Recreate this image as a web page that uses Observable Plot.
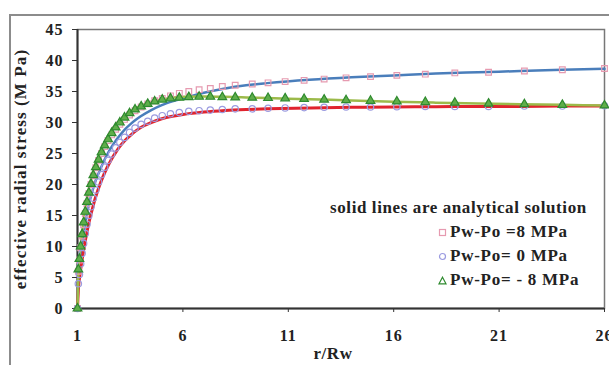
<!DOCTYPE html>
<html><head><meta charset="utf-8">
<script src="https://cdn.jsdelivr.net/npm/d3@7"></script>
<script src="https://cdn.jsdelivr.net/npm/@observablehq/plot@0.6"></script>
<style>
body{margin:0;background:#fff;}
#wrap{position:relative;width:609px;height:365px;overflow:hidden;font-family:"Liberation Serif","Times New Roman",serif;font-weight:bold;color:#222;}
#border{position:absolute;left:9px;top:14px;width:700px;height:400px;border-top:2px solid #8c8c8c;border-left:2px solid #8c8c8c;}
#chart{position:absolute;left:0;top:0;}
#legend{position:absolute;left:330px;top:196px;font-size:17px;line-height:24px;letter-spacing:0.6px;}
#legend .row{padding-left:108px;white-space:nowrap;letter-spacing:0.75px;}
#legend svg{vertical-align:middle;margin-right:3px;position:relative;top:-1px;}
#chart g[aria-label="y-axis tick label"] text, #chart g[aria-label="x-axis tick label"] text{letter-spacing:1px;}
#chart g[aria-description="ylab"] text{letter-spacing:1.1px;}
#chart g[aria-description="xlab"] text{letter-spacing:0.6px;}
</style>
</head><body>
<div id="wrap"><div id="border"></div><div id="chart"></div><div id="legend"></div></div>
<script>
// ---- data ----
const seriesNames = ["Pw-Po =8 MPa", "Pw-Po= 0 MPa", "Pw-Po= - 8 MPa"];
const xTicks = [1, 6, 11, 16, 21, 26];
const yTicks = [0, 5, 10, 15, 20, 25, 30, 35, 40, 45];
const xLabel = "r/Rw";
const yLabel = "effective radial stress (M Pa)";
const legendTitle = "solid lines are analytical solution";

// analytical solution (solid lines)
const lineX = [1, 1.05, 1.1, 1.2, 1.3, 1.4, 1.5, 1.6, 1.7, 1.8, 1.9, 2, 2.2, 2.4, 2.6, 2.8, 3, 3.25, 3.5, 3.75, 4, 4.5, 5, 5.5, 6, 7, 8, 9, 10, 12, 14, 16, 18, 20, 22, 24, 26];
const lineP8 = [0, 5.5, 7.0, 9.8, 12.2, 14.3, 16.1, 17.6, 18.9, 20.0, 21.0, 21.8, 23.4, 24.8, 26.0, 27.0, 27.9, 28.9, 29.7, 30.4, 31.0, 32.0, 32.8, 33.4, 33.9, 34.8, 35.5, 36.0, 36.35, 36.9, 37.3, 37.6, 37.9, 38.1, 38.3, 38.5, 38.65];
const lineP0 = [0, 3.5, 5.0, 7.5, 9.6, 11.5, 13.2, 14.7, 16.0, 17.3, 18.4, 19.4, 21.2, 22.7, 24.0, 25.1, 26.1, 27.1, 27.9, 28.6, 29.2, 30.0, 30.6, 31.0, 31.3, 31.7, 31.95, 32.1, 32.2, 32.35, 32.45, 32.5, 32.55, 32.6, 32.6, 32.65, 32.65];
const lineM8 = [0, 6.6, 8.8, 11.8, 14.4, 16.7, 18.6, 20.2, 21.6, 22.8, 23.8, 24.6, 26.1, 27.4, 28.5, 29.4, 30.2, 31.0, 31.7, 32.3, 32.7, 33.3, 33.7, 34.0, 34.15, 34.2, 34.15, 34.05, 33.95, 33.75, 33.55, 33.35, 33.2, 33.05, 32.95, 32.85, 32.75];

// numerical results (markers)
const markerX = [1, 1.04, 1.09, 1.15, 1.22, 1.29, 1.37, 1.45, 1.54, 1.64, 1.75, 1.87, 2.0, 2.14, 2.29, 2.45, 2.62, 2.81, 3.01, 3.23, 3.47, 3.73, 4.02, 4.33, 4.66, 5.02, 5.41, 5.83, 6.28, 6.77, 7.3, 7.87, 8.48, 9.29, 10.04, 10.85, 11.75, 12.7, 13.74, 14.9, 16.15, 17.5, 18.9, 20.5, 22.2, 24.0, 26.0];
const markP8 = [0, 6.0, 7.8, 9.8, 11.7, 13.5, 15.3, 16.9, 18.5, 20.0, 21.4, 22.7, 23.9, 25.0, 26.1, 27.1, 28.0, 28.9, 29.7, 30.5, 31.2, 31.9, 32.5, 33.0, 33.5, 33.9, 34.3, 34.7, 35.0, 35.3, 35.5, 35.8, 36.0, 36.2, 36.4, 36.6, 36.8, 37.0, 37.2, 37.4, 37.6, 37.8, 38.0, 38.1, 38.3, 38.5, 38.7];
const markP0 = [0, 4.0, 5.5, 7.2, 8.9, 10.5, 12.1, 13.6, 15.0, 16.4, 17.8, 19.1, 20.4, 21.6, 22.8, 23.9, 24.9, 25.9, 26.8, 27.6, 28.4, 29.1, 29.7, 30.2, 30.7, 31.1, 31.4, 31.6, 31.8, 31.9, 32.0, 32.1, 32.2, 32.2, 32.3, 32.35, 32.4, 32.45, 32.5, 32.5, 32.55, 32.6, 32.6, 32.6, 32.65, 32.65, 32.7];
const markM8 = [0, 6.3, 8.0, 10.0, 12.0, 13.9, 15.6, 17.2, 18.7, 20.1, 21.5, 22.8, 24.0, 25.2, 26.3, 27.3, 28.3, 29.2, 30.0, 30.8, 31.5, 32.1, 32.6, 33.0, 33.4, 33.7, 33.9, 34.0, 34.1, 34.15, 34.15, 34.1, 34.05, 34.0, 33.95, 33.9, 33.8, 33.7, 33.6, 33.5, 33.4, 33.3, 33.2, 33.05, 32.95, 32.85, 32.75];

// ---- styles ----
const lineColors = ["#4a7ebb", "#e0242e", "#9cba4a"];
const markStroke = ["#e69ab0", "#9b9be0", "#2e8a2e"];
const markFill = ["none", "none", "#5fae4a"];
const symbols = ["square", "circle", "triangle"];

const lineSets = [lineP8, lineP0, lineM8];
const markSets = [markP8, markP0, markM8];
const lineTables = lineSets.map(ys => lineX.map((x, j) => ({x, y: ys[j]})));
const markTables = markSets.map(ys => markerX.map((x, j) => ({x, y: ys[j]})));

const chart = Plot.plot({
  width: 609, height: 365,
  marginLeft: 77, marginRight: 5, marginTop: 29, marginBottom: 57,
  style: {fontFamily: "'Liberation Serif','Times New Roman',serif", fontWeight: "bold", fontSize: "16px", color: "#222", background: "transparent"},
  x: {domain: [1, 26]},
  y: {domain: [0, 45]},
  marks: [
    Plot.frame({stroke: "#777", strokeWidth: 1.5}),
    Plot.axisY(yTicks, {tickSize: 5, tickPadding: 9, label: null, fontSize: 16, fontWeight: "bold", stroke: "#333"}),
    Plot.axisX(xTicks, {tickSize: 4, tickPadding: 17, label: null, fontSize: 16, fontWeight: "bold", stroke: "#333"}),
    Plot.ruleX([1], {stroke: "#333", strokeWidth: 2}),
    Plot.ruleY([0], {stroke: "#333", strokeWidth: 2}),
    ...lineTables.map((t, i) => Plot.line(t, {x: "x", y: "y", stroke: lineColors[i], strokeWidth: i === 1 ? 3 : 2.5, curve: "monotone-x"})),
    ...markTables.map((t, i) => Plot.dot(t, {x: "x", y: "y", symbol: symbols[i], r: 3.2, stroke: markStroke[i], fill: markFill[i], strokeWidth: 1.2})),
    Plot.text([yLabel], {frameAnchor: "left", textAnchor: "middle", rotate: -90, dx: -57, fontSize: 17, fontWeight: "bold", fill: "#222", ariaDescription: "ylab"}),
    Plot.text([xLabel], {frameAnchor: "bottom", textAnchor: "middle", dy: 50, dx: -8, fontSize: 17, fontWeight: "bold", fill: "#222", ariaDescription: "xlab"})
  ]
});
document.getElementById("chart").appendChild(chart);

// ---- legend ----
const legend = document.getElementById("legend");
const title = document.createElement("div");
title.textContent = legendTitle;
legend.appendChild(title);
const symPaths = {
  square: '<rect x="1.5" y="1.5" width="6" height="6" fill="none" stroke-width="1.2"/>',
  circle: '<circle cx="4.5" cy="4.5" r="3" fill="none" stroke-width="1.2"/>',
  triangle: '<path d="M4.5 1.2 L8 7.8 L1 7.8 Z" fill="none" stroke-width="1.2"/>'
};
seriesNames.forEach((name, i) => {
  const row = document.createElement("div");
  row.className = "row";
  row.innerHTML = `<svg width="9" height="9" stroke="${markStroke[i]}">${symPaths[symbols[i]]}</svg>` + name;
  legend.appendChild(row);
});
</script>
</body></html>
